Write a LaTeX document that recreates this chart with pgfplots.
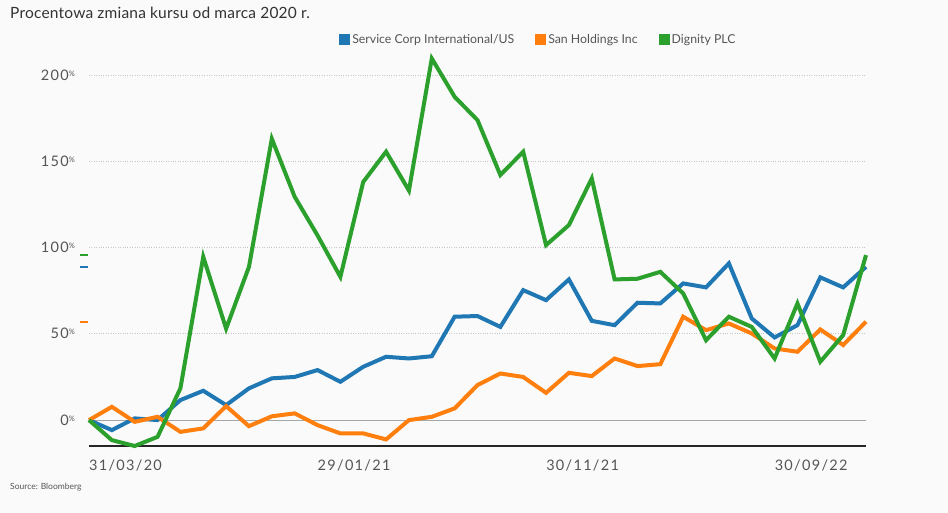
\documentclass[border=0pt]{standalone}
\usepackage{pgfplots}
\pgfplotsset{compat=1.18}
\usepackage{pgfplotstable}
\usepackage{fontspec}
\setmainfont{Lato}
\newfontfamily\numfont{Lato}[LetterSpace=9]
\newfontfamily\titlefont{Lato}[LetterSpace=1.3]
\definecolor{cblue}{HTML}{1F77B4}
\definecolor{corange}{HTML}{FF7F0E}
\definecolor{cgreen}{HTML}{2CA02C}
\definecolor{bg}{HTML}{FAFAFA}
\definecolor{txt}{HTML}{555555}
\pgfplotstableread{
i blue orange green
0 0 0 0
1 -5.8 7.7 -11.6
2 1 -1 -15
3 0 1.9 -9.7
4 11.6 -6.8 18.4
5 17 -4.8 94.6
6 8.7 8.1 53
7 18.4 -3.5 88.8
8 24.2 2.2 163
9 25 3.9 129.4
10 29 -2.9 107
11 22.2 -7.7 83
12 30.9 -7.7 138
13 36.7 -11.2 155.5
14 35.7 0 133
15 37 1.9 209.5
16 59.9 6.8 187.3
17 60.3 20.3 173.8
18 54 27 142
19 75.3 25 155.5
20 69.5 15.8 101.4
21 81.5 27.4 113
22 57.5 25.5 140
23 55 35.7 81.5
24 68 31.3 81.9
25 67.6 32.4 85.9
26 79.2 59.9 73.4
27 76.9 52.1 46.3
28 90.8 56 59.9
29 58.9 50.2 54
30 47.9 41.5 35.7
31 55 39.6 67.6
32 82.7 52.5 33.8
33 76.9 43.5 49.2
34 88.8 57 95.6
}\data
\begin{document}
\begin{tikzpicture}
\fill[bg] (0pt,0pt) rectangle (948pt,513pt);
\path[use as bounding box] (0pt,0pt) rectangle (948pt,513pt);
\node[anchor=base west, font=\titlefont\fontsize{15.5}{17}\selectfont, text=black!80, inner sep=0pt] at (10pt,494pt) {Procentowa zmiana kursu od marca 2020 r.};
\node[anchor=base west, font=\fontsize{8.5}{9}\selectfont, text=txt, inner sep=0pt] at (10pt,23pt) {Source: Bloomberg};
\begin{axis}[
  at={(89pt,67pt)}, anchor=south west,
  scale only axis, width=777pt, height=391.8pt,
  xmin=0, xmax=34, ymin=-15, ymax=212,
  clip=false,
  axis x line*=bottom, axis y line*=left,
  y axis line style={draw=none},
  x axis line style={black!85, line width=1.2pt},
  major tick length=0pt,
  xtick={0,10,20,30},
  xticklabels={{\numfont 31/03/20}, {\numfont 29/01/21}, {\numfont 30/11/21}, {\numfont 30/09/22}},
  xticklabel style={anchor=north west, inner sep=0pt, yshift=-14pt, font=\fontsize{14.5}{16}\selectfont, text=txt},
  ytick={0,50,100,150,200},
  /pgf/number format/assume math mode=true,
  yticklabel={{\numfont\pgfmathprintnumber{\tick}\raisebox{0.55ex}{\fontsize{7.5}{8}\selectfont\%}}},
  yticklabel style={anchor=east, inner sep=0pt, xshift=-14pt, font=\fontsize{14.5}{16}\selectfont, text=txt},
  ymajorgrids, grid style={dotted, gray!45, line width=0.8pt},
  legend columns=3,
  legend style={at={(0.318,1.038)}, anchor=west, draw=none, fill=none,
    font=\fontsize{12.3}{13}\selectfont, text=txt,
    /tikz/every even column/.append style={column sep=19pt}},
  legend image code/.code={\fill[#1] (0pt,-3.5pt) rectangle (7pt,3.5pt);},
]
\addplot[gray!70, line width=1pt, forget plot] coordinates {(0,0) (34,0)};
\addplot[cblue, line width=4pt] table[x=i, y=blue] {\data};
\addlegendentry{Service Corp International/US}
\addplot[corange, line width=4pt] table[x=i, y=orange] {\data};
\addlegendentry{San Holdings Inc}
\addplot[cgreen, line width=4pt] table[x=i, y=green] {\data};
\addlegendentry{Dignity PLC}
\addplot[cgreen, forget plot, only marks, mark=-, mark size=4pt, mark options={line width=2.2pt}] coordinates {(-0.22,95.6)};
\addplot[cblue, forget plot, only marks, mark=-, mark size=4pt, mark options={line width=2.2pt}] coordinates {(-0.22,88.8)};
\addplot[corange, forget plot, only marks, mark=-, mark size=4pt, mark options={line width=2.2pt}] coordinates {(-0.22,57)};
\end{axis}
\end{tikzpicture}
\end{document}
